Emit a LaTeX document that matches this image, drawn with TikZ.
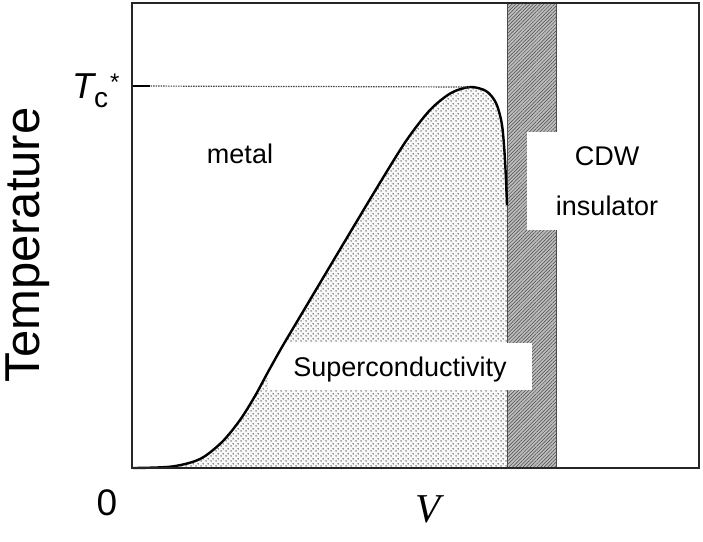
\documentclass[tikz,border=0pt]{standalone}
\usepackage{fontspec}
\setmainfont{Liberation Sans}
\newfontfamily\serifit{Liberation Serif}
\usetikzlibrary{patterns,patterns.meta}

\tikzdeclarepattern{
  name=stipple, type=uncolored,
  bounding box={(0pt,0pt) and (5pt,5pt)},
  tile size={(5pt,5pt)},
  code={\fill (1.25pt,1.25pt) circle (0.9pt); \fill (3.75pt,3.75pt) circle (0.9pt);}
}

\def\sccurve{(133,468) (172,466.5) (200,459) (222,442) (240,420) (255,396) (268,372) (282,347) (298,320) (320,283) (348,236) (378,186) (406,141) (430,110) (451,93) (470,87) (486,91) (496,103) (502,125) (505,160) (507,205)}

\begin{document}
\begin{tikzpicture}[x=1pt,y=-1pt,
  framestyle/.style={draw=black!85, line width=2.2pt},
  curvestyle/.style={draw=black, line width=2.4pt},
  whitebox/.style={fill=white, draw=none, inner sep=0pt},
  lbl/.style={inner sep=0pt, font=\fontsize{27}{32}\selectfont}]
\useasboundingbox (0,0) rectangle (703,541);

\coordinate (o) at (133,468);
\coordinate (peak) at (470,87);
\coordinate (tcl) at (133,86);

% stipple region under the curve
\path[fill=gray!5] plot[smooth, tension=0.5] coordinates {\sccurve} -- (507,468) -- cycle;
\path[pattern={stipple}, pattern color=black!60] plot[smooth, tension=0.5] coordinates {\sccurve} -- (507,468) -- cycle;

% CDW band
\fill[gray!52] (507,3) rectangle (556,468);
\path[pattern={Lines[angle=45, distance=2.5pt, line width=0.5pt]}, pattern color=gray!55!black] (507,3) rectangle (556,468);
\draw[black!70, line width=0.8pt] (507,3) -- (507,468) (556,3) -- (556,468);

% white label boxes
\node[whitebox, lbl, minimum width=264pt, minimum height=47pt, text height=20pt, text depth=0pt] (sc) at (400,366.5) {Superconductivity};
\node[whitebox, lbl, minimum width=160pt, minimum height=98pt, align=center, font=\fontsize{27}{50}\selectfont] (cdw) at (607,181) {CDW\\insulator};

% curve
\draw[curvestyle] plot[smooth, tension=0.5] coordinates {\sccurve};

% Tc* line
\draw[gray!55!black, line width=1.2pt, dash pattern=on 1.5pt off 1pt] (tcl) -- (peak);
\draw[black, line width=1.6pt] (tcl) -- ++(17,0);

% frame
\draw[framestyle] (132,3) rectangle (699,468);

% labels
\node[lbl, anchor=base] (metal) at (240,163) {metal};
\node[inner sep=0pt, rotate=90, font=\fontsize{49}{49}\selectfont] (temp) at (28,245) {Temperature};
\node[inner sep=0pt, anchor=base west] (tc) at (72,98) {{\fontsize{36}{36}\selectfont\itshape T}\raisebox{-9pt}{\fontsize{28}{28}\selectfont c}\hspace{2pt}\raisebox{8pt}{\fontsize{24}{24}\selectfont *}};
\node[inner sep=0pt, anchor=base, font=\fontsize{37}{37}\selectfont] (zero) at (107,515) {0};
\node[inner sep=0pt, anchor=base, font=\fontsize{41}{41}\serifit\itshape] (v) at (428,522) {V};
\end{tikzpicture}
\end{document}
